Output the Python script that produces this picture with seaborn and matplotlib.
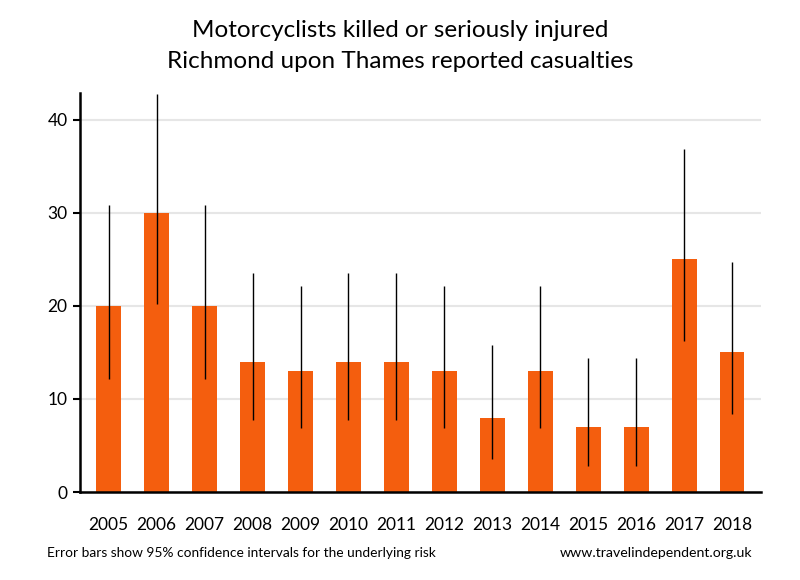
import matplotlib
matplotlib.use("Agg")
import matplotlib.pyplot as plt
import seaborn as sns
import pandas as pd

years = ["2005", "2006", "2007", "2008", "2009", "2010", "2011", "2012",
         "2013", "2014", "2015", "2016", "2017", "2018"]
casualties = [20, 30, 20, 14, 13, 14, 14, 13, 8, 13, 7, 7, 25, 15]
ci_low = [12.2, 20.2, 12.2, 7.7, 6.9, 7.7, 7.7, 6.9, 3.5, 6.9, 2.8, 2.8, 16.2, 8.4]
ci_high = [30.9, 42.8, 30.9, 23.5, 22.2, 23.5, 23.5, 22.2, 15.8, 22.2, 14.4, 14.4, 36.9, 24.7]
yticks = [0, 10, 20, 30, 40]

sns.set_theme(style="white")
plt.rcParams["font.family"] = ["Lato", "DejaVu Sans"]

df = pd.DataFrame({"year": years, "value": casualties})

fig = plt.figure(figsize=(8, 5.8), dpi=100)
ax = fig.add_axes([0.1, 0.1517, 0.851, 0.688])

sns.barplot(data=df, x="year", y="value", color="#F45E0E", saturation=1,
            width=0.52, ax=ax, errorbar=None, zorder=2, linewidth=0)

xs = range(len(years))
ax.vlines(list(xs), ci_low, ci_high, color="black", linewidth=1, zorder=3)

ax.set_xlim(-0.6, len(years) - 0.4)
ax.set_ylim(0, 42.9)
ax.set_yticks(yticks)
ax.yaxis.grid(True, color="#E6E6E6", linewidth=1.5, zorder=0)
ax.set_axisbelow(True)
ax.set_xlabel("")
ax.set_ylabel("")

for s in ["top", "right"]:
    ax.spines[s].set_visible(False)
for s in ["left", "bottom"]:
    ax.spines[s].set_color("black")
    ax.spines[s].set_linewidth(1.8)

ax.tick_params(axis="y", which="both", left=True, length=5, width=1.5,
               color="black", labelsize=12.5, pad=4, labelcolor="black")
ax.tick_params(axis="x", bottom=False, labelsize=12.5, pad=12, labelcolor="black")

fig.text(0.5, 0.948, "Motorcyclists killed or seriously injured",
         ha="center", va="center", fontsize=17.5, color="black")
fig.text(0.5, 0.894, "Richmond upon Thames reported casualties",
         ha="center", va="center", fontsize=17.5, color="black")

fig.text(0.059, 0.046, "Error bars show 95% confidence intervals for the underlying risk",
         ha="left", va="center", fontsize=9.9, color="black")
fig.text(0.94, 0.046, "www.travelindependent.org.uk",
         ha="right", va="center", fontsize=10.2, color="black")

fig.savefig("out.png", dpi=100, facecolor="white")
